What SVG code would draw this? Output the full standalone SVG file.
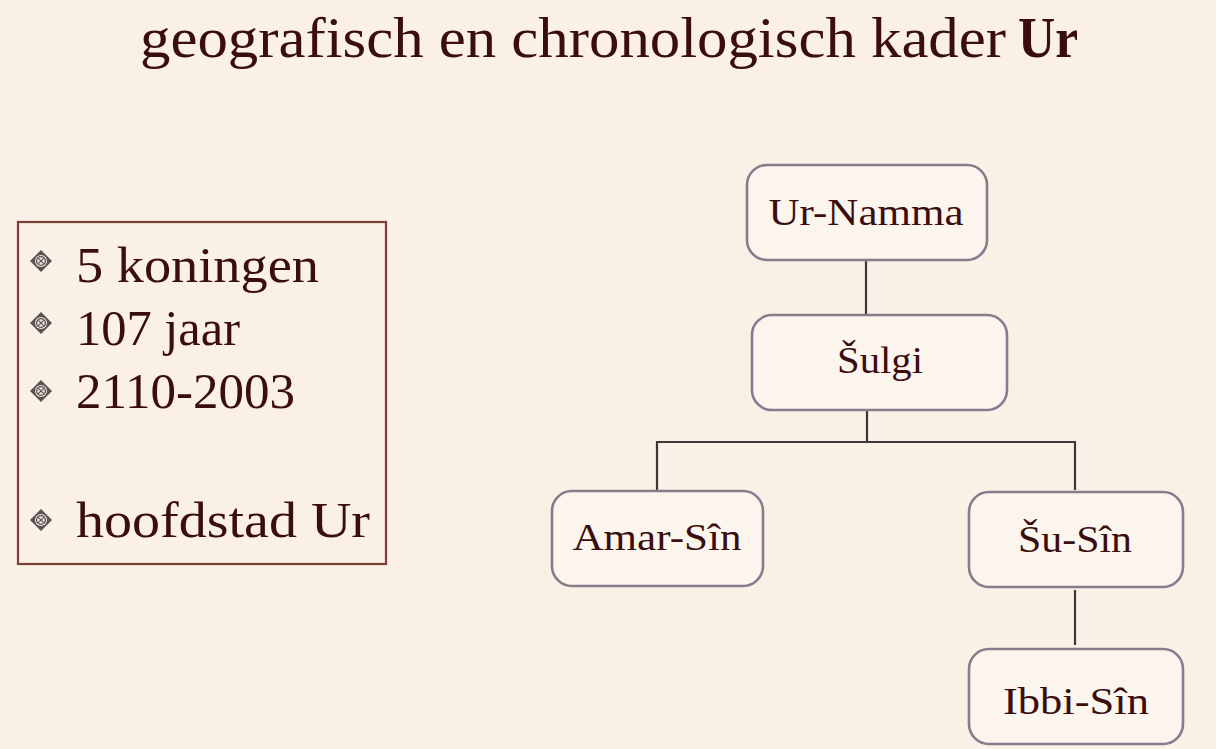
<svg xmlns="http://www.w3.org/2000/svg" xmlns:xlink="http://www.w3.org/1999/xlink" width="1216" height="749" viewBox="0 0 1216 749">
<style>
.ser{font-family:"Liberation Serif","DejaVu Serif",serif;fill:#3a0e0e}
.title{font-size:56px}
.item{font-size:51px}
.lbl{font-size:37px;text-anchor:middle}
.nbox{fill:#fcf5ee;stroke:#857c8c;stroke-width:2.6}
.conn{stroke:#3c3838;stroke-width:2.2;fill:none}
</style>
<defs>
<filter id="soft" x="-5%" y="-5%" width="110%" height="110%"><feGaussianBlur stdDeviation="0.7"/></filter>
<g id="bul">
<path d="M0,-11 L11,0 0,11 -11,0Z" fill="#5c5253"/>
<circle r="6" fill="#f3e9e0"/>
<circle r="4.4" fill="none" stroke="#5c5253" stroke-width="1.3"/>
<path d="M-2.7,-2.7 L2.7,2.7 M2.7,-2.7 L-2.7,2.7" stroke="#5c5253" stroke-width="1.2"/>
</g>
</defs>
<rect width="1216" height="749" fill="#fbf0e6"/>
<g id="title">
<text class="ser title" x="140" y="57" textLength="866" lengthAdjust="spacingAndGlyphs">geografisch en chronologisch kader</text>
<text class="ser title" x="1018" y="57" font-weight="bold" textLength="60" lengthAdjust="spacingAndGlyphs">Ur</text>
</g>
<g id="facts">
<rect x="18" y="222" width="368" height="342" fill="none" stroke="#7a3f38" stroke-width="2.2"/>
<use xlink:href="#bul" x="41" y="261"/>
<use xlink:href="#bul" x="41" y="323"/>
<use xlink:href="#bul" x="41" y="391"/>
<use xlink:href="#bul" x="41" y="520"/>
<text class="ser item" x="76" y="282" textLength="243" lengthAdjust="spacingAndGlyphs">5 koningen</text>
<text class="ser item" x="76" y="345" textLength="164" lengthAdjust="spacingAndGlyphs">107 jaar</text>
<text class="ser item" x="76" y="408" textLength="219" lengthAdjust="spacingAndGlyphs">2110-2003</text>
<text class="ser item" x="76" y="537" textLength="294" lengthAdjust="spacingAndGlyphs">hoofdstad Ur</text>
</g>
<g id="connectors">
<path class="conn" d="M866,261 V314"/>
<path class="conn" d="M867,411 V442 M656,442 H1076 M657,442 V490 M1075,442 V490"/>
<path class="conn" d="M1075,590 V645"/>
</g>
<g id="n-urnamma">
<rect class="nbox" x="747" y="165" width="240" height="95" rx="20" filter="url(#soft)"/>
<text class="ser lbl" x="866" y="225" textLength="195" lengthAdjust="spacingAndGlyphs">Ur-Namma</text>
</g>
<g id="n-sulgi">
<rect class="nbox" x="752" y="315" width="255" height="95" rx="20" filter="url(#soft)"/>
<text class="ser lbl" x="880" y="373" textLength="86" lengthAdjust="spacingAndGlyphs">Šulgi</text>
</g>
<g id="n-amarsin">
<rect class="nbox" x="552" y="491" width="211" height="95" rx="20" filter="url(#soft)"/>
<text class="ser lbl" x="657" y="550" textLength="169" lengthAdjust="spacingAndGlyphs">Amar-Sîn</text>
</g>
<g id="n-susin">
<rect class="nbox" x="969" y="492" width="214" height="95" rx="20" filter="url(#soft)"/>
<text class="ser lbl" x="1075" y="552" textLength="114" lengthAdjust="spacingAndGlyphs">Šu-Sîn</text>
</g>
<g id="n-ibbisin">
<rect class="nbox" x="969" y="649" width="214" height="95" rx="20" filter="url(#soft)"/>
<text class="ser lbl" x="1076" y="714" textLength="146" lengthAdjust="spacingAndGlyphs">Ibbi-Sîn</text>
</g>
</svg>
